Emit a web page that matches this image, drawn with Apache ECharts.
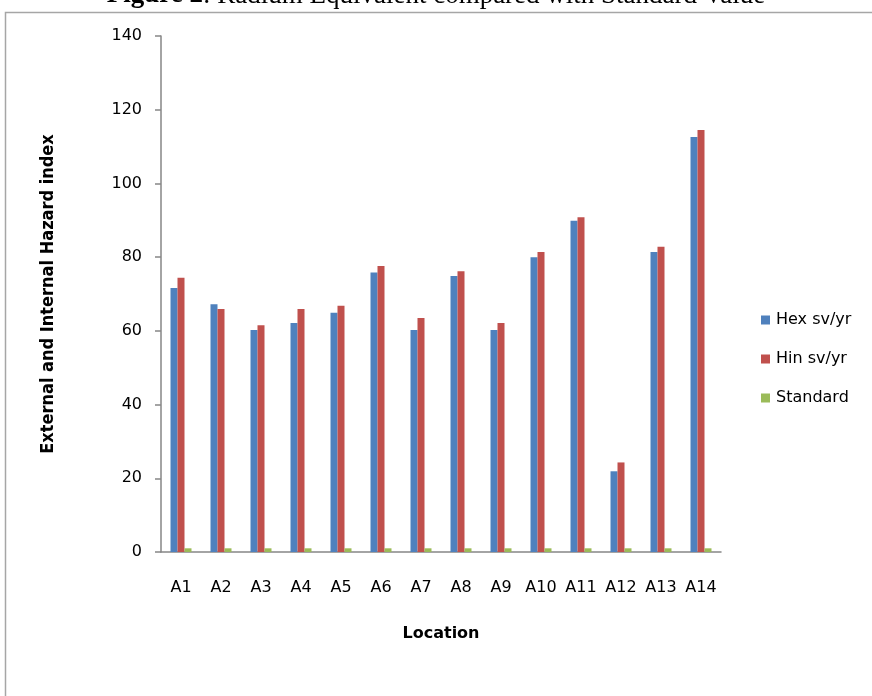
<!DOCTYPE html>
<html>
<head>
<meta charset="utf-8">
<script src="https://cdn.jsdelivr.net/npm/echarts@6/dist/echarts.min.js"></script>
<style>
html,body{margin:0;padding:0;background:#fff;}
#chart{width:872px;height:696px;}
</style>
</head>
<body>
<div id="chart"></div>
<script>
var categories = ['A1','A2','A3','A4','A5','A6','A7','A8','A9','A10','A11','A12','A13','A14'];
var hexValues = [71.6, 67.2, 60.2, 62.1, 64.9, 75.8, 60.2, 74.9, 60.2, 80.0, 89.9, 21.9, 81.4, 112.6];
var hinValues = [74.4, 65.9, 61.5, 65.9, 66.8, 77.6, 63.5, 76.2, 62.1, 81.4, 90.8, 24.3, 82.8, 114.5];
var standardValues = [1, 1, 1, 1, 1, 1, 1, 1, 1, 1, 1, 1, 1, 1];
var seriesNames = ['Hex sv/yr', 'Hin sv/yr', 'Standard'];
var yMin = 0, yMax = 140, yInterval = 20;

var chart = echarts.init(document.getElementById('chart'), null, {renderer: 'canvas'});
var axisFont = 'DejaVu Sans';
chart.setOption({
  animation: false,
  backgroundColor: '#ffffff',
  graphic: [
    {type: 'rect', shape: {x: 5.5, y: 12.5, width: 900, height: 800}, style: {fill: 'none', stroke: '#a6a6a6', lineWidth: 1.5}, z: -1},
    {type: 'text', left: 'center', top: -18, style: {
      text: '{b|Figure 2}{n|: Radium Equivalent compared with Standard Value}',
      rich: {
        b: {fontFamily: 'Liberation Serif', fontSize: 27, fontWeight: 'bold', fill: '#000'},
        n: {fontFamily: 'Liberation Serif', fontSize: 27, fill: '#000'}
      }
    }, z: 10}
  ],
  grid: {left: 161, right: 151, top: 36, bottom: 144, containLabel: false},
  legend: {
    orient: 'vertical', left: 756, top: 306,
    itemWidth: 9, itemHeight: 9, itemGap: 21,
    icon: 'rect',
    textStyle: {fontFamily: axisFont, fontSize: 16, color: '#000', lineHeight: 18, padding: [0,0,0,1]},
    data: seriesNames
  },
  xAxis: {
    type: 'category', data: categories,
    name: 'Location', nameLocation: 'middle', nameGap: 74,
    nameTextStyle: {fontFamily: axisFont, fontSize: 16, fontWeight: 'bold', color: '#000'},
    axisLine: {lineStyle: {color: '#868686', width: 1.5}},
    axisTick: {show: false},
    axisLabel: {interval: 0, margin: 28, fontFamily: axisFont, fontSize: 16, color: '#000'}
  },
  yAxis: {
    type: 'value', min: yMin, max: yMax, interval: yInterval,
    name: 'External and Internal Hazard index', nameLocation: 'middle', nameGap: 104,
    nameTextStyle: {fontFamily: 'DejaVu Sans Condensed', fontSize: 18, fontWeight: 'bold', color: '#000'},
    splitLine: {show: false},
    axisLine: {show: true, lineStyle: {color: '#868686', width: 1.5}},
    axisTick: {show: true, length: 6, lineStyle: {color: '#868686', width: 1.5}},
    axisLabel: {margin: 19, fontFamily: axisFont, fontSize: 16, color: '#000'}
  },
  series: [
    {name: seriesNames[0], type: 'bar', data: hexValues, barWidth: 7, barGap: '0%', itemStyle: {color: '#4F81BD'}},
    {name: seriesNames[1], type: 'bar', data: hinValues, barWidth: 7, barGap: '0%', itemStyle: {color: '#C0504D'}},
    {name: seriesNames[2], type: 'bar', data: standardValues, barWidth: 7, barGap: '0%', itemStyle: {color: '#9BBB59'}}
  ]
});
</script>
</body>
</html>
